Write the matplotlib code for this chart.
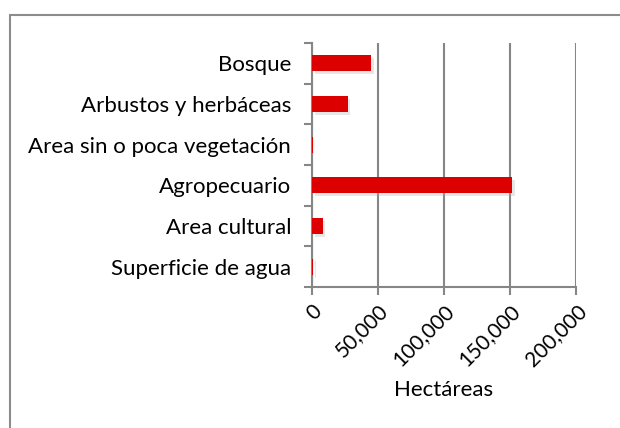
import numpy as np
import matplotlib
matplotlib.use('Agg')
import matplotlib.pyplot as plt
import matplotlib.patheffects as pe
from matplotlib.patches import Rectangle
from matplotlib.ticker import FuncFormatter

# datos (hectáreas), de abajo hacia arriba
categorias = ['Superficie de agua', 'Area cultural', 'Agropecuario',
              'Area sin o poca vegetación', 'Arbustos y herbáceas', 'Bosque']
hectareas = [800, 8100, 151500, 400, 27000, 44500]
ticks_x = [0, 50000, 100000, 150000, 200000]

plt.rcParams['font.family'] = ['Lato', 'DejaVu Sans']

fig = plt.figure(figsize=(6.2, 4.28), dpi=100)
ax = fig.add_axes([312/620, 1 - 287/428, 264/620, 244/428])

y = np.arange(len(categorias))
bars = ax.barh(y, hectareas, height=0.4, color='#dd0000', zorder=3)
for b in bars:
    b.set_path_effects([pe.SimplePatchShadow(offset=(2, -2), shadow_rgbFace='#b0b0b0', alpha=0.3),
                        pe.Normal()])

ax.set_xlim(0, 200000)
ax.set_ylim(-0.5, len(categorias) - 0.5)
ax.set_xticks(ticks_x)
ax.xaxis.set_major_formatter(FuncFormatter(lambda v, p: '{:,.0f}'.format(v)))
ax.set_yticks(np.arange(len(categorias) + 1) - 0.5, minor=False)
ax.set_yticklabels([])
ax.set_yticks(y, minor=True)
ax.set_yticklabels(categorias, minor=True, fontsize=16)
ax.tick_params(axis='y', which='minor', length=0, pad=15)
ax.tick_params(axis='y', which='major', length=6, width=1.5, color='#868686')
ax.tick_params(axis='x', length=6, width=1.5, color='#868686', labelsize=15, pad=4)
for lbl in ax.get_xticklabels():
    lbl.set_rotation(45)
    lbl.set_ha('right')
    lbl.set_va('top')
    lbl.set_rotation_mode('anchor')

ax.grid(axis='x', color='#868686', linewidth=1.5, zorder=0)
for s in ['top', 'right']:
    ax.spines[s].set_visible(False)
for s in ['left', 'bottom']:
    ax.spines[s].set_color('#868686')
    ax.spines[s].set_linewidth(1.5)

ax.set_xlabel('Hectáreas', fontsize=16, labelpad=7)

# marco del gráfico
fig.patches.append(Rectangle((10/620, -0.1), 1.2, 1 - 15/428 + 0.1, transform=fig.transFigure,
                             fill=False, edgecolor='#8c8c8c', linewidth=1.5))

plt.savefig('out.png', dpi=100)
plt.close()
